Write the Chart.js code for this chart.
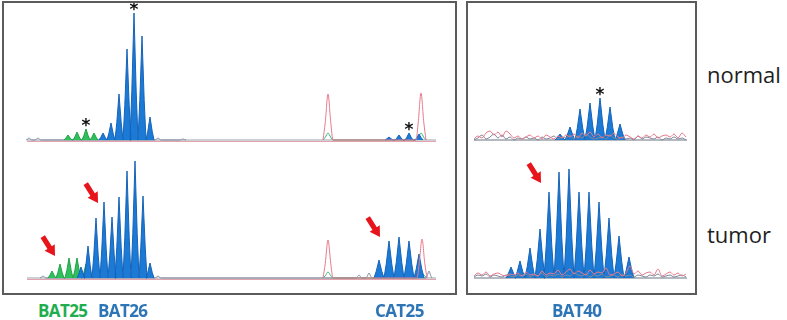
<!DOCTYPE html>
<html>
<head>
<meta charset="utf-8">
<script src="https://cdn.jsdelivr.net/npm/chart.js@4.4.1/dist/chart.umd.min.js"></script>
<style>
body { margin: 0; background: #fff; width: 787px; height: 320px; position: relative; overflow: hidden; font-family: 'Open Sans', sans-serif; }
canvas { position: absolute; }
.box { position: absolute; border: 2px solid #5b5b5b; box-sizing: border-box; pointer-events: none; }
.lbl { position: absolute; font-weight: 700; font-size: 17px; line-height: 17px; letter-spacing: -0.6px; white-space: nowrap; }
.row { position: absolute; font-size: 22px; line-height: 22px; color: #1e1e1e; }
</style>
</head>
<body>
<canvas id="lt" width="460" height="148" style="left:0;top:0"></canvas>
<canvas id="lb" width="460" height="147" style="left:0;top:148px"></canvas>
<canvas id="rt" width="240" height="148" style="left:460px;top:0"></canvas>
<canvas id="rb" width="240" height="147" style="left:460px;top:148px"></canvas>
<div class="box" style="left:2px;top:1px;width:455px;height:294px"></div>
<div class="box" style="left:466px;top:1px;width:231px;height:294px"></div>
<div class="row" style="left:707px;top:63px">normal</div>
<div class="row" style="left:707px;top:223px">tumor</div>
<div class="lbl" style="left:38px;top:302px;color:#1fae4f">BAT25</div>
<div class="lbl" style="left:98px;top:302px;color:#2e75b6">BAT26</div>
<div class="lbl" style="left:375px;top:302px;color:#2e75b6">CAT25</div>
<div class="lbl" style="left:552px;top:302px;color:#2e75b6">BAT40</div>
<script>
// peak positions (scan units) and heights (rfu-ish)
const bat25NormalPos = [68, 77, 86, 94];
const bat25NormalH = [5, 8, 11, 7];
const bat26NormalPos = [103, 111, 119, 127, 134, 142, 150];
const bat26NormalH = [7, 17, 46, 91, 127, 104, 23];
const cat25NormalPos = [389, 399, 409, 419];
const cat25NormalH = [3, 5, 7, 6];
const sizeStdNormalPos = [328, 421];
const sizeStdNormalH = [46, 47];
const greenBumpNormalH = [7, 7];
const otherNormalPos = [29, 38, 158, 183];
const otherNormalH = [2, 2, 2, 1];

const bat25TumorPos = [52, 60, 69, 77, 86];
const bat25TumorH = [7, 14, 20, 20, 14];
const bat26TumorPos = [81, 88, 96, 104, 112, 119, 127, 135, 143, 150];
const bat26TumorH = [11, 32, 60, 76, 61, 81, 107, 117, 82, 15];
const cat25TumorPos = [379, 389, 399, 409, 419];
const cat25TumorH = [18, 37, 41, 37, 24];
const sizeStdTumorPos = [328, 422];
const sizeStdTumorH = [38, 39];
const greenBumpTumorH = [6, 5];
const otherTumorPos = [43, 158, 359, 369, 429];
const otherTumorH = [2, 2, 3, 5, 7];

const bat40NormalPos = [560, 570, 580, 590, 600, 610, 620];
const bat40NormalH = [6, 13, 31, 37, 42, 33, 16];
const bat40TumorPos = [511, 520, 530, 540, 549, 559, 569, 579, 589, 599, 609, 619, 629];
const bat40TumorH = [11, 17, 30, 49, 86, 106, 109, 86, 86, 76, 60, 42, 21];

const scanRange = [27, 436];
const bat40Range = [474, 687];
const noiseStart = 474;
const noiseStep = 4;
const noisePinkNormal = [1,4,2,7,9,5,8,3,9,6,2,4,1,3,5,2,4,1,5,3,1,4,2,5,3,6,2,7,4,8,3,6,2,5,4,7,3,2,5,3,1,4,2,5,3,6,2,4,5,3,6,2,7,3];
const noiseGrayNormal = [0,2,5,1,3,6,2,5,1,3,0,2,1,3,1,2,0,3,1,2,4,1,3,2,5,1,4,2,6,3,1,2,3,1,5,2,1,3,1,2,0,4,1,3,2,1,3,0,2,1,3,1,2,0];
const noisePinkTumor = [2,5,3,6,2,4,5,3,2,4,3,5,2,6,3,4,2,7,3,5,4,8,3,6,9,4,7,5,3,8,4,6,5,10,3,4,6,2,5,12,4,7,3,5,6,3,9,2,4,6,3,5,2,4];
const noiseGrayTumor = [1,3,2,4,1,3,2,1,3,2,1,3,2,4,1,3,2,5,1,3,2,4,1,3,2,5,3,2,4,1,3,2,4,1,2,3,1,4,2,3,1,3,2,1,3,2,4,1,2,3,1,2,3,1];

const tumorArrowPos = [55, 98, 380];
const tumorArrowH = [22, 75, 41];
const bat40ArrowPos = [541];
const bat40ArrowH = [95];

const BLUE = '#1b7ad6', BLUE_EDGE = '#1663b8';
const GREEN = '#2fc05b', GREEN_EDGE = '#22a24a';
const PINK = '#e8798c', TEAL = '#35b27a', GRAY = '#7e8a9c';

function peaks(pos, h, w) {
    const pts = [];
    pos.forEach((c, i) => {
        pts.push({x: c - w, y: 0}, {x: c - w * 0.55, y: h[i] * 0.38}, {x: c, y: h[i]},
                 {x: c + w * 0.55, y: h[i] * 0.38}, {x: c + w, y: 0});
    });
    return pts;
}

function noise(vals) {
    return vals.map((v, i) => ({x: noiseStart + i * noiseStep, y: v}));
}

function filled(points, bg, edge) {
    return {data: points, backgroundColor: bg, borderColor: edge, borderWidth: 1, fill: 'origin', tension: 0};
}

// smooth outline traces; monotone keeps the flat stretches flat
function outline(points, color) {
    return {data: points, borderColor: color, borderWidth: 1, fill: false, cubicInterpolationMode: 'monotone'};
}

function baseline(range, y, color) {
    return {data: [{x: range[0], y}, {x: range[1], y}], borderColor: color, borderWidth: 1, fill: false};
}

function drawArrow(ctx, tx, ty) {
    const dx = 12, dy = 19, len = Math.hypot(dx, dy);
    const ux = dx / len, uy = dy / len, nx = -uy, ny = ux;
    const head = 10, hw = 6, sw = 2.6, total = 23;
    const bx = tx - ux * head, by = ty - uy * head;
    const sx = tx - ux * total, sy = ty - uy * total;
    ctx.beginPath();
    ctx.moveTo(sx + nx * sw, sy + ny * sw);
    ctx.lineTo(bx + nx * sw, by + ny * sw);
    ctx.lineTo(bx + nx * hw, by + ny * hw);
    ctx.lineTo(tx, ty);
    ctx.lineTo(bx - nx * hw, by - ny * hw);
    ctx.lineTo(bx - nx * sw, by - ny * sw);
    ctx.lineTo(sx - nx * sw, sy - ny * sw);
    ctx.closePath();
    ctx.fillStyle = '#e8141b';
    ctx.fill();
}

// asterisks over modal peaks and red arrows on the tumour traces
Chart.register({
    id: 'marks',
    defaults: {stars: [], arrows: []},
    afterDatasetsDraw(chart, args, opts) {
        const ctx = chart.ctx, xs = chart.scales.x, ys = chart.scales.y;
        ctx.save();
        ctx.fillStyle = '#111';
        ctx.font = 'bold 17px "DejaVu Sans"';
        ctx.textAlign = 'center';
        ctx.textBaseline = 'middle';
        opts.stars.forEach(s => {
            ctx.fillText('*', xs.getPixelForValue(s.x), ys.getPixelForValue(s.y) - 2);
        });
        opts.arrows.forEach(a => {
            drawArrow(ctx, xs.getPixelForValue(a.x), ys.getPixelForValue(a.y));
        });
        ctx.restore();
    }
});

function makeChart(id, datasets, xr, yr, marks) {
    return new Chart(document.getElementById(id), {
        type: 'line',
        data: {datasets},
        options: {
            responsive: false,
            animation: false,
            events: [],
            layout: {padding: 0},
            elements: {point: {radius: 0}, line: {borderJoinStyle: 'round'}},
            scales: {
                x: {type: 'linear', min: xr[0], max: xr[1], display: false},
                y: {min: yr[0], max: yr[1], display: false}
            },
            plugins: {legend: {display: false}, tooltip: {enabled: false}, marks}
        }
    });
}

makeChart('lt', [
    outline(peaks(sizeStdNormalPos, sizeStdNormalH, 5), PINK),
    filled(peaks(bat26NormalPos, bat26NormalH, 4), BLUE, BLUE_EDGE),
    filled(peaks(cat25NormalPos, cat25NormalH, 4), BLUE, BLUE_EDGE),
    filled(peaks(bat25NormalPos, bat25NormalH, 4), GREEN, GREEN_EDGE),
    outline(peaks(sizeStdNormalPos, greenBumpNormalH, 5), TEAL),
    outline(peaks(otherNormalPos, otherNormalH, 3), GRAY),
    baseline(scanRange, 0, '#9aa0aa'),
    baseline(scanRange, -1.5, '#e7a1ad')
], [0, 460], [-8, 140], {
    stars: [
        {x: bat26NormalPos[4], y: bat26NormalH[4]},
        {x: bat25NormalPos[2], y: bat25NormalH[2]},
        {x: cat25NormalPos[2], y: cat25NormalH[2]}
    ]
});

makeChart('lb', [
    outline(peaks(sizeStdTumorPos, sizeStdTumorH, 5), PINK),
    filled(peaks(bat26TumorPos, bat26TumorH, 4), BLUE, BLUE_EDGE),
    filled(peaks(cat25TumorPos, cat25TumorH, 5), BLUE, BLUE_EDGE),
    filled(peaks(bat25TumorPos, bat25TumorH, 4), GREEN, GREEN_EDGE),
    outline(peaks(sizeStdTumorPos, greenBumpTumorH, 5), TEAL),
    outline(peaks(otherTumorPos, otherTumorH, 3), GRAY),
    baseline(scanRange, 0, '#9aa0aa'),
    baseline(scanRange, -1.5, '#e7a1ad')
], [0, 460], [-17, 130], {
    arrows: tumorArrowPos.map((x, i) => ({x, y: tumorArrowH[i]}))
});

makeChart('rt', [
    outline(noise(noisePinkNormal), PINK),
    outline(noise(noiseGrayNormal), GRAY),
    filled(peaks(bat40NormalPos, bat40NormalH, 5), BLUE, BLUE_EDGE),
    baseline(bat40Range, 0, '#6b7280')
], [460, 700], [-8, 140], {
    stars: [{x: bat40NormalPos[4], y: bat40NormalH[4]}]
});

makeChart('rb', [
    outline(noise(noisePinkTumor), PINK),
    outline(noise(noiseGrayTumor), GRAY),
    filled(peaks(bat40TumorPos, bat40TumorH, 5), BLUE, BLUE_EDGE),
    baseline(bat40Range, 0, '#6b7280')
], [460, 700], [-17, 130], {
    arrows: bat40ArrowPos.map((x, i) => ({x, y: bat40ArrowH[i]}))
});
</script>
</body>
</html>
